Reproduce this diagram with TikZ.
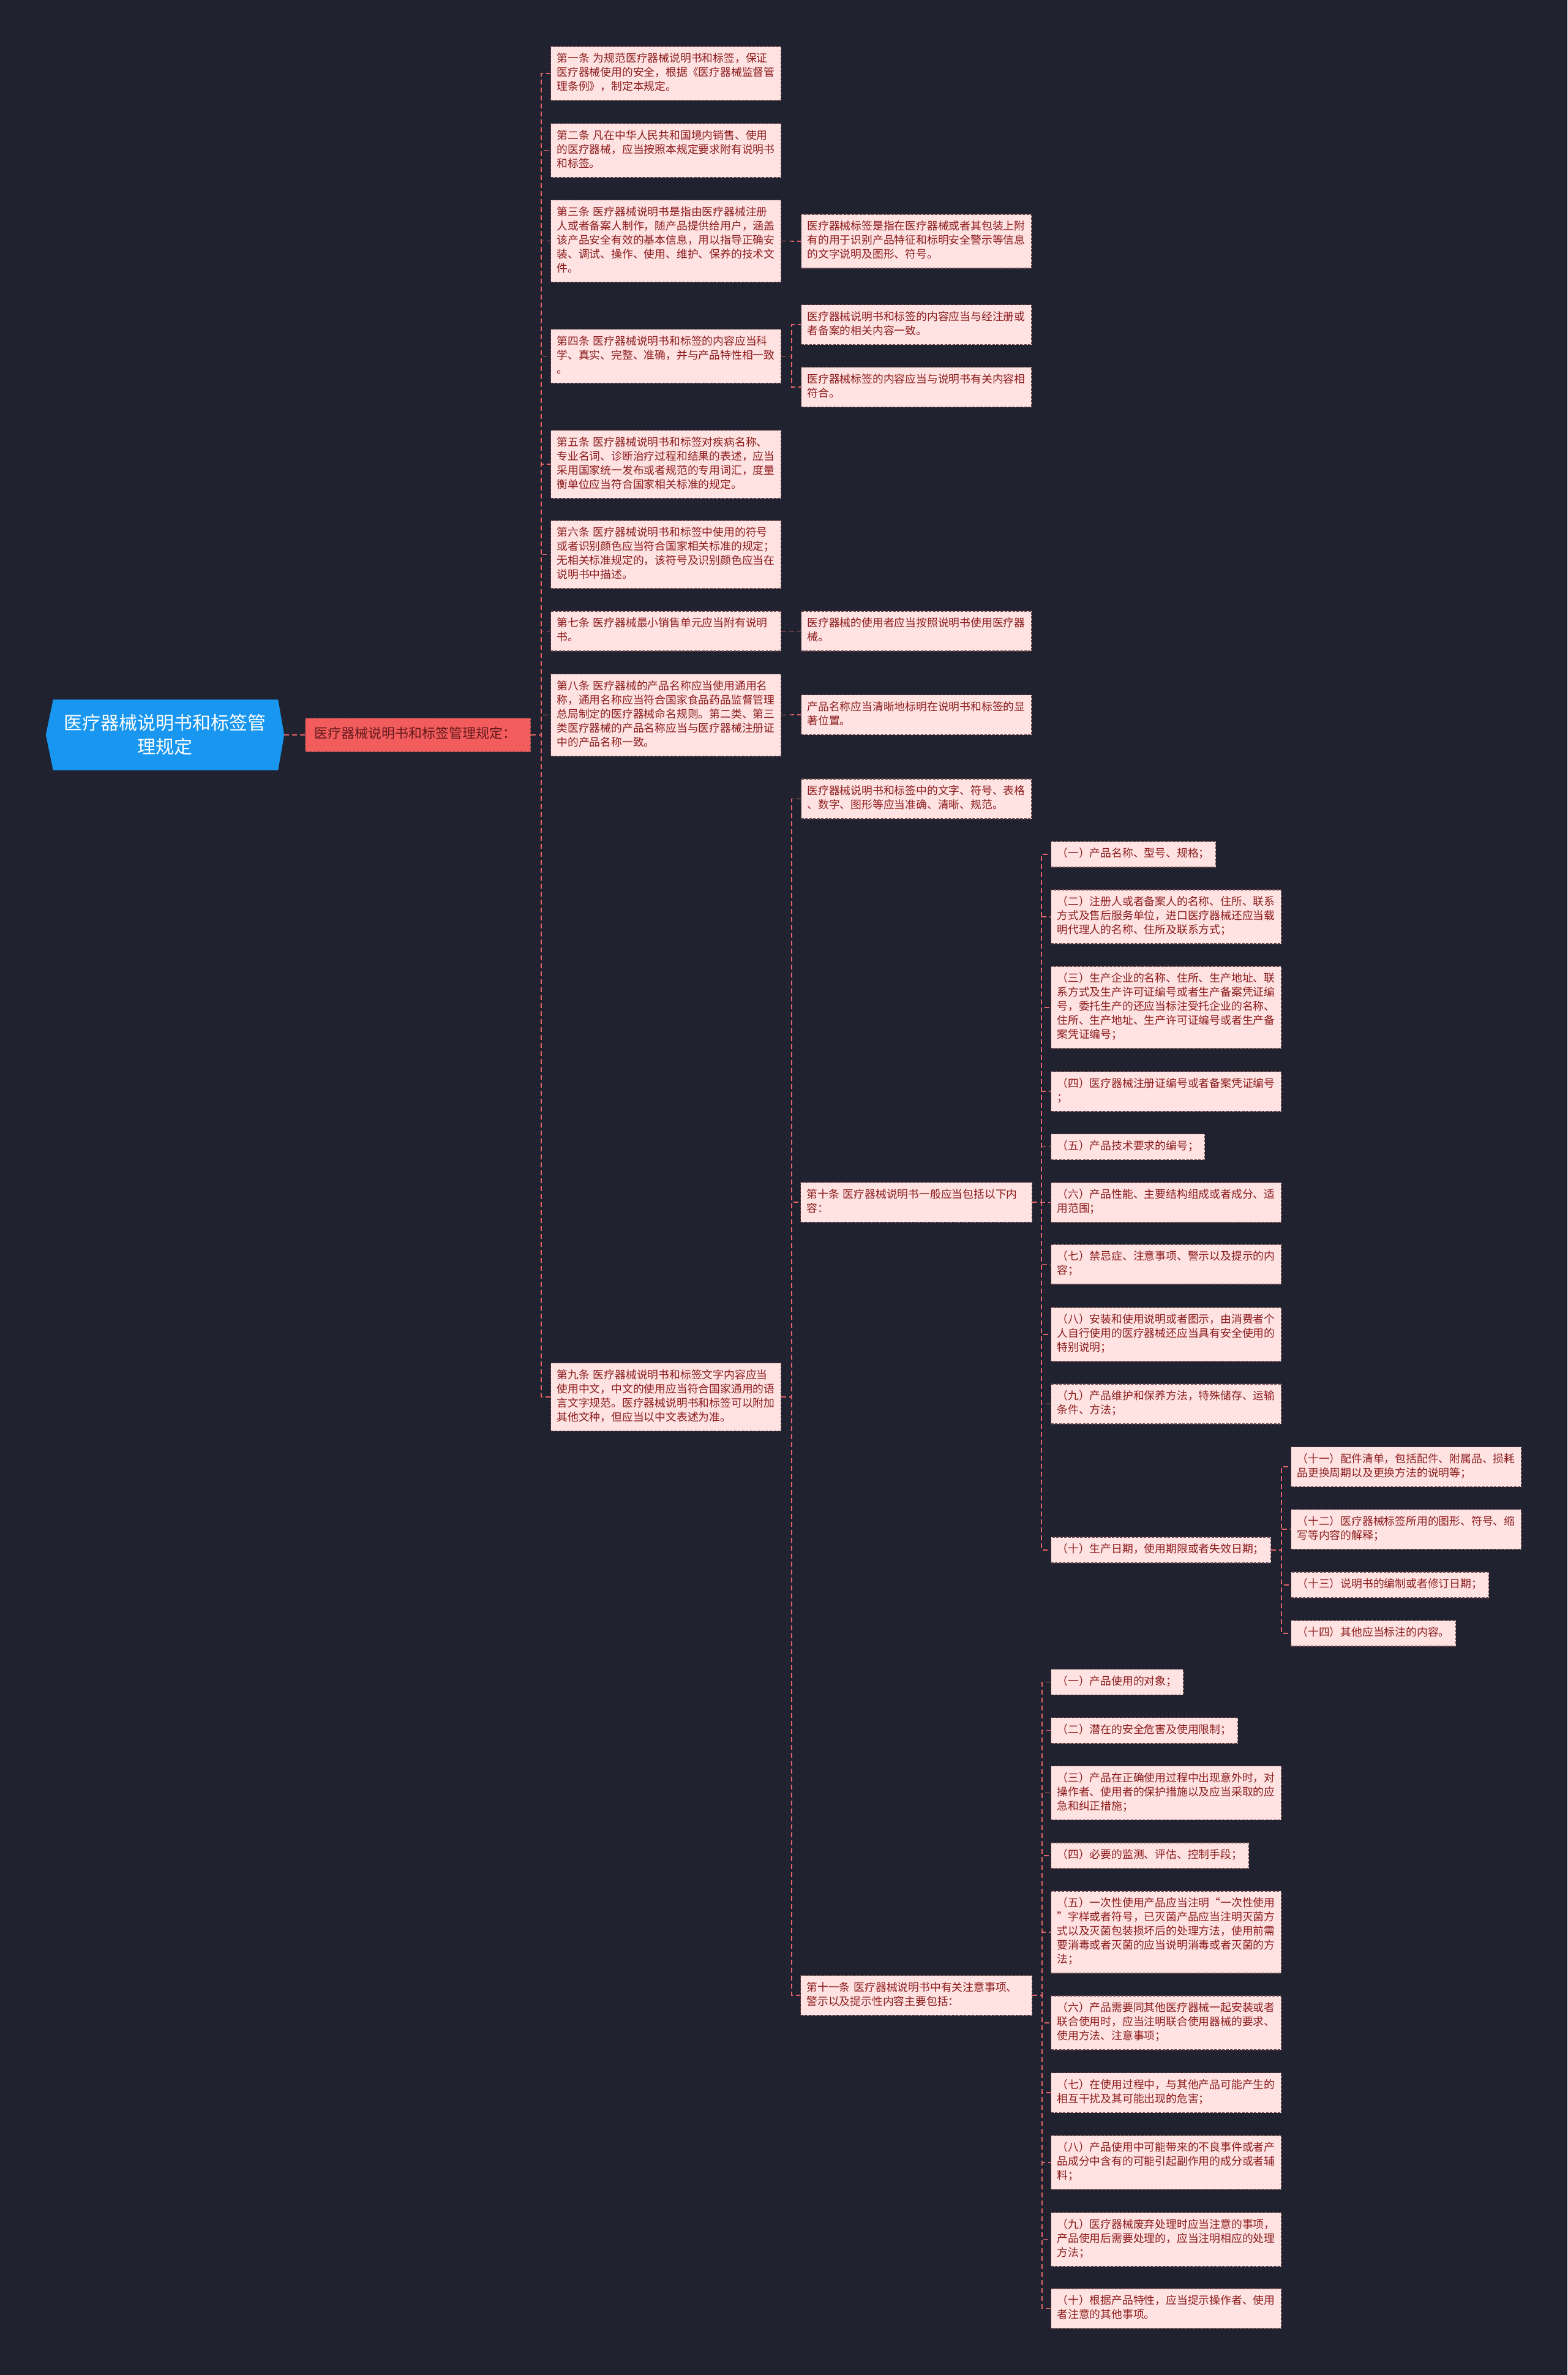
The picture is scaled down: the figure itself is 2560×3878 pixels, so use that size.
\documentclass[tikz,border=0pt]{standalone}
\usepackage{fontspec}
\setmainfont{Noto Sans CJK SC}
\usetikzlibrary{backgrounds}
\definecolor{bgc}{RGB}{32,35,47}
\definecolor{boxfill}{RGB}{255,226,226}
\definecolor{boxborder}{RGB}{105,70,75}
\definecolor{boxtext}{RGB}{140,28,28}
\definecolor{linkc}{RGB}{226,100,104}
\definecolor{rootc}{RGB}{24,150,240}
\definecolor{lvlfill}{RGB}{242,92,92}
\definecolor{lvltext}{RGB}{100,26,30}
\begin{document}
\begin{tikzpicture}[x=1pt,y=-1pt,
  box/.style={draw=boxborder, line width=1.1pt, dash pattern=on 4pt off 2.5pt,
    fill=boxfill, text=boxtext, font=\fontsize{17.8}{23}\selectfont,
    align=left, inner xsep=10pt, inner ysep=9.5pt, anchor=west,
    execute at begin node=\strut, execute at end node=\strut, text width=#1},
  box/.default=356pt,
  lvl/.style={draw=boxborder, line width=1.1pt, dash pattern=on 4pt off 2.5pt,
    fill=lvlfill, text=lvltext, font=\fontsize{22}{28}\selectfont,
    align=left, inner xsep=15pt, inner ysep=13.5pt, anchor=west,
    execute at begin node=\strut, execute at end node=\strut, text width=338pt},
  rootbox/.style={inner sep=0pt, minimum width=389pt, minimum height=115pt,
    text=white, font=\fontsize{30}{39}\selectfont, align=center, text width=340pt},
  conn/.style={draw=linkc, line width=1.8pt, dash pattern=on 8pt off 5pt}]
\useasboundingbox (0,0) rectangle (2560,3878);

% root and level 1
\node[rootbox] (root) at (269.5,1200) {医疗器械说明书和标签管\\理规定};
\node[lvl] (L1) at (498,1200) {医疗器械说明书和标签管理规定：};

% level 2
\node[box] (n1) at (899,120) {第一条 为规范医疗器械说明书和标签，保证\\医疗器械使用的安全，根据《医疗器械监督管\\理条例》，制定本规定。};
\node[box] (n2) at (899,245.5) {第二条 凡在中华人民共和国境内销售、使用\\的医疗器械，应当按照本规定要求附有说明书\\和标签。};
\node[box] (n3) at (899,393.5) {第三条 医疗器械说明书是指由医疗器械注册\\人或者备案人制作，随产品提供给用户，涵盖\\该产品安全有效的基本信息，用以指导正确安\\装、调试、操作、使用、维护、保养的技术文\\件。};
\node[box] (n4) at (899,581.5) {第四条 医疗器械说明书和标签的内容应当科\\学、真实、完整、准确，并与产品特性相一致\\。};
\node[box] (n5) at (899,758) {第五条 医疗器械说明书和标签对疾病名称、\\专业名词、诊断治疗过程和结果的表述，应当\\采用国家统一发布或者规范的专用词汇，度量\\衡单位应当符合国家相关标准的规定。};
\node[box] (n6) at (899,905.5) {第六条 医疗器械说明书和标签中使用的符号\\或者识别颜色应当符合国家相关标准的规定；\\无相关标准规定的，该符号及识别颜色应当在\\说明书中描述。};
\node[box] (n7) at (899,1030.5) {第七条 医疗器械最小销售单元应当附有说明\\书。};
\node[box] (n8) at (899,1167.5) {第八条 医疗器械的产品名称应当使用通用名\\称，通用名称应当符合国家食品药品监督管理\\总局制定的医疗器械命名规则。第二类、第三\\类医疗器械的产品名称应当与医疗器械注册证\\中的产品名称一致。};
\node[box] (n9) at (899,2281) {第九条 医疗器械说明书和标签文字内容应当\\使用中文，中文的使用应当符合国家通用的语\\言文字规范。医疗器械说明书和标签可以附加\\其他文种，但应当以中文表述为准。};

% level 3
\node[box] (n3a) at (1308,394) {医疗器械标签是指在医疗器械或者其包装上附\\有的用于识别产品特征和标明安全警示等信息\\的文字说明及图形、符号。};
\node[box] (n4a) at (1308,530) {医疗器械说明书和标签的内容应当与经注册或\\者备案的相关内容一致。};
\node[box] (n4b) at (1308,632) {医疗器械标签的内容应当与说明书有关内容相\\符合。};
\node[box] (n7a) at (1308,1030.5) {医疗器械的使用者应当按照说明书使用医疗器\\械。};
\node[box] (n8a) at (1308,1167) {产品名称应当清晰地标明在说明书和标签的显\\著位置。};
\node[box] (n9a) at (1308,1304.5) {医疗器械说明书和标签中的文字、符号、表格\\、数字、图形等应当准确、清晰、规范。};
\node[box=358pt] (n10) at (1307,1963) {第十条 医疗器械说明书一般应当包括以下内\\容：};
\node[box=358pt] (n11) at (1307,3258) {第十一条 医疗器械说明书中有关注意事项、\\警示以及提示性内容主要包括：};

% children of n10
\node[box=249pt] (c1) at (1716,1395) {（一）产品名称、型号、规格；};
\node[box] (c2) at (1716,1497) {（二）注册人或者备案人的名称、住所、联系\\方式及售后服务单位，进口医疗器械还应当载\\明代理人的名称、住所及联系方式；};
\node[box] (c3) at (1716,1645) {（三）生产企业的名称、住所、生产地址、联\\系方式及生产许可证编号或者生产备案凭证编\\号，委托生产的还应当标注受托企业的名称、\\住所、生产地址、生产许可证编号或者生产备\\案凭证编号；};
\node[box] (c4) at (1716,1782) {（四）医疗器械注册证编号或者备案凭证编号\\；};
\node[box=231pt] (c5) at (1716,1872.5) {（五）产品技术要求的编号；};
\node[box] (c6) at (1716,1963.5) {（六）产品性能、主要结构组成或者成分、适\\用范围；};
\node[box] (c7) at (1716,2064.5) {（七）禁忌症、注意事项、警示以及提示的内\\容；};
\node[box] (c8) at (1716,2179) {（八）安装和使用说明或者图示，由消费者个\\人自行使用的医疗器械还应当具有安全使用的\\特别说明；};
\node[box] (c9) at (1716,2292.5) {（九）产品维护和保养方法，特殊储存、运输\\条件、方法；};
\node[box=339pt] (c10) at (1716,2531) {（十）生产日期，使用期限或者失效日期；};

% children of c10
\node[box] (d11) at (2108,2395) {（十一）配件清单，包括配件、附属品、损耗\\品更换周期以及更换方法的说明等；};
\node[box] (d12) at (2108,2497) {（十二）医疗器械标签所用的图形、符号、缩\\写等内容的解释；};
\node[box=303pt] (d13) at (2108,2588) {（十三）说明书的编制或者修订日期；};
\node[box=249pt] (d14) at (2108,2667) {（十四）其他应当标注的内容。};

% children of n11
\node[box=196pt] (e1) at (1716,2746.5) {（一）产品使用的对象；};
\node[box=285pt] (e2) at (1716,2825.5) {（二）潜在的安全危害及使用限制；};
\node[box] (e3) at (1716,2927.5) {（三）产品在正确使用过程中出现意外时，对\\操作者、使用者的保护措施以及应当采取的应\\急和纠正措施；};
\node[box=303pt] (e4) at (1716,3030) {（四）必要的监测、评估、控制手段；};
\node[box] (e5) at (1716,3155) {（五）一次性使用产品应当注明“一次性使用\\”字样或者符号，已灭菌产品应当注明灭菌方\\式以及灭菌包装损坏后的处理方法，使用前需\\要消毒或者灭菌的应当说明消毒或者灭菌的方\\法；};
\node[box] (e6) at (1716,3303) {（六）产品需要同其他医疗器械一起安装或者\\联合使用时，应当注明联合使用器械的要求、\\使用方法、注意事项；};
\node[box] (e7) at (1716,3417) {（七）在使用过程中，与其他产品可能产生的\\相互干扰及其可能出现的危害；};
\node[box] (e8) at (1716,3531) {（八）产品使用中可能带来的不良事件或者产\\品成分中含有的可能引起副作用的成分或者辅\\料；};
\node[box] (e9) at (1716,3656.5) {（九）医疗器械废弃处理时应当注意的事项，\\产品使用后需要处理的，应当注明相应的处理\\方法；};
\node[box] (e10) at (1716,3769.5) {（十）根据产品特性，应当提示操作者、使用\\者注意的其他事项。};

% connectors
\draw[conn] (root.east) -- (L1.west);
\foreach \c in {n1,n2,n3,n4,n5,n6,n7,n8,n9}
  \draw[conn] (L1.east) -- ++(17,0) |- (\c.west);
\draw[conn] (n3.east) -- ++(17,0) |- (n3a.west);
\foreach \c in {n4a,n4b}
  \draw[conn] (n4.east) -- ++(17,0) |- (\c.west);
\draw[conn] (n7.east) -- ++(17,0) |- (n7a.west);
\draw[conn] (n8.east) -- ++(17,0) |- (n8a.west);
\foreach \c in {n9a,n10,n11}
  \draw[conn] (n9.east) -- ++(17,0) |- (\c.west);
\foreach \c in {c1,c2,c3,c4,c5,c6,c7,c8,c9,c10}
  \draw[conn] (n10.east) -- ++(15,0) |- (\c.west);
\foreach \c in {d11,d12,d13,d14}
  \draw[conn] (c10.east) -- ++(17,0) |- (\c.west);
\foreach \c in {e1,e2,e3,e4,e5,e6,e7,e8,e9,e10}
  \draw[conn] (n11.east) -- ++(16,0) |- (\c.west);

\begin{pgfonlayer}{background}
  \fill[bgc] (0,0) rectangle (2560,3878);
  \fill[rootc] (root.west) -- ([xshift=12pt]root.north west) -- ([xshift=-10pt]root.north east)
    -- (root.east) -- ([xshift=-10pt]root.south east) -- ([xshift=12pt]root.south west) -- cycle;
\end{pgfonlayer}
\end{tikzpicture}
\end{document}
